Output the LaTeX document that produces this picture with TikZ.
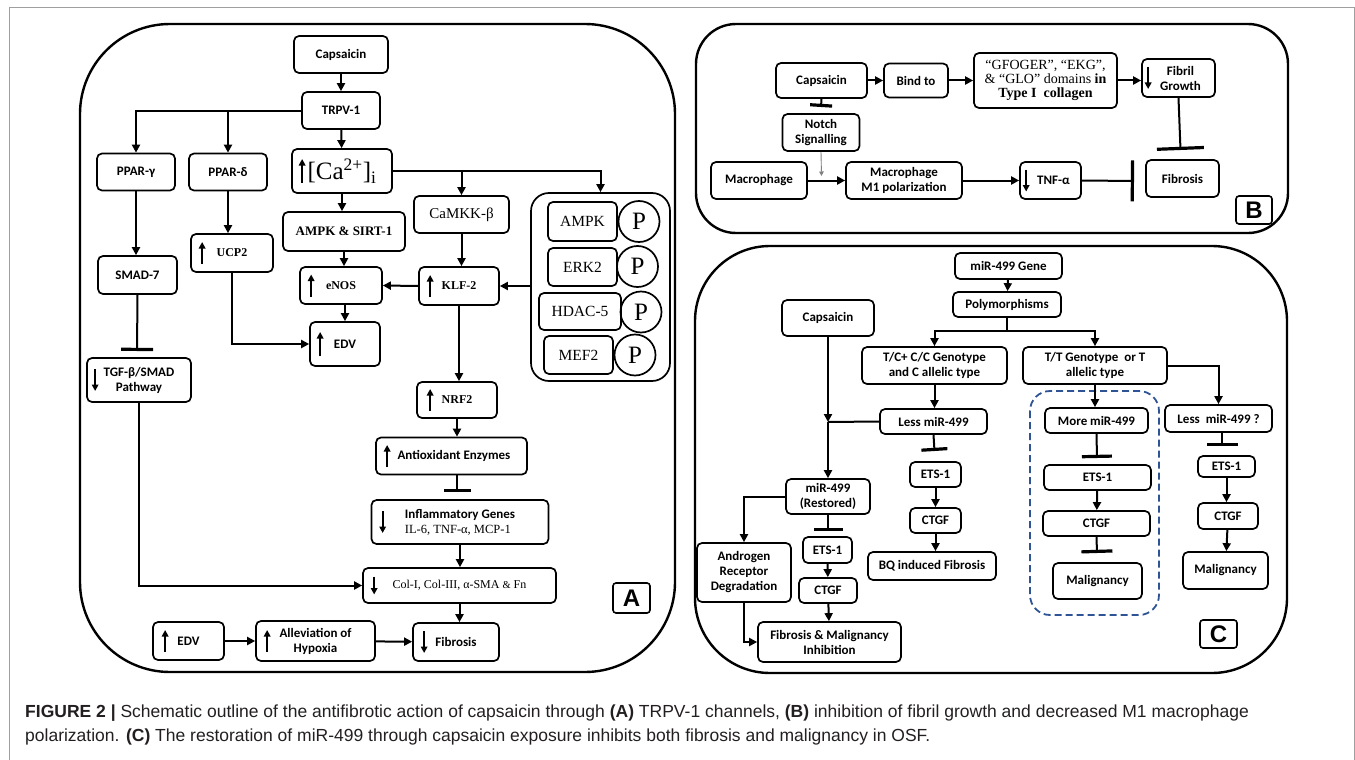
\documentclass[tikz,border=0pt]{standalone}
\usepackage{fontspec}
\setmainfont{Liberation Serif}
\newfontfamily\calfont{Carlito}
\newfontfamily\tmsfont{Liberation Serif}
\newfontfamily\arfont{Liberation Sans}
\usetikzlibrary{arrows.meta,calc}
\definecolor{dblue}{RGB}{46,84,150}
\definecolor{capgray}{RGB}{35,31,32}
\newcommand\UpA[3]{\draw[updn] ([xshift=#2,yshift=-#3]#1.west) -- ([xshift=#2,yshift=#3]#1.west);}
\newcommand\DnA[3]{\draw[updn] ([xshift=#2,yshift=#3]#1.west) -- ([xshift=#2,yshift=-#3]#1.west);}
\tikzset{
  box/.style={draw, line width=1.7pt, rounded corners=5pt, inner sep=0pt, align=center,
     font=\calfont\bfseries\fontsize{13}{15}\selectfont},
  wh/.style 2 args={minimum width=#1pt, minimum height=#2pt},
  tb/.style={box, font=\tmsfont\bfseries\fontsize{12}{14}\selectfont},
  tr/.style={box, font=\tmsfont\fontsize{15.5}{17}\selectfont},
  pc/.style={circle, draw, line width=1.7pt, minimum size=41pt, inner sep=0pt, font=\tmsfont\fontsize{25}{25}\selectfont},
  arr/.style={line width=2pt, -{Triangle[length=8pt,width=8pt]}},
  ln/.style={line width=2pt},
  inh/.style={line width=2pt, -{Bar[width=#1,line width=3.2pt]}},
  updn/.style={line width=2pt, -{Triangle[length=6.5pt,width=6.5pt]}},
  panel/.style={draw, line width=2.4pt},
  lab/.style={draw, line width=1.6pt, rounded corners=3pt, inner sep=0pt, font=\arfont\bfseries\fontsize{24}{24}\selectfont},
}
\begin{document}
\begin{tikzpicture}[x=1pt,y=-1pt]
\useasboundingbox (0,0) rectangle (1355,760);
\draw[gray!75, line width=1pt] (9,760) -- (9,8) -- (1354,8) -- (1354,760);

% ---------------- panels
\draw[panel, rounded corners=90pt] (80,24) rectangle (675,672);
\draw[panel, rounded corners=40pt] (696,24) rectangle (1288,233);
\draw[panel, rounded corners=75pt] (695,246) rectangle (1287,673);

% ---------------- panel A
\node[box,wh={94}{37}] (capA) at (341,54.5) {Capsaicin};
\node[box,wh={78}{37}] (trpv) at (341,110.5) {TRPV-1};
\node[box,wh={78}{37}] (ppg) at (136,172) {PPAR-γ};
\node[box,wh={78}{37}] (ppd) at (228,172) {PPAR-δ};
\node[box,wh={100}{44}, font=\tmsfont\fontsize{25}{27}\selectfont] (ca) at (342,171) {[Ca\textsuperscript{2+}]\textsubscript{i}};
\node[tr,wh={95}{37}, font=\tmsfont\fontsize{15}{17}\selectfont] (camkk) at (461.5,214.5) {CaMKK-β};
\node[box,wh={122}{39}, font=\tmsfont\bfseries\fontsize{13}{15}\selectfont] (ampks) at (344,231.5) {AMPK \& SIRT-1};
\node[tb,wh={82}{38}] (ucp) at (232,253) {UCP2};
\node[box,wh={79}{38}] (smad) at (137.5,275) {SMAD-7};
\node[tb,wh={82}{37}] (enos) at (341,285.5) {eNOS};
\node[tb,wh={80}{38}] (klf) at (459,286) {KLF-2};
\node[draw, line width=1.7pt, rounded corners=18pt, wh={139}{188}] (bigbox) at (600.5,287) {};
\node[tr,wh={69}{39}] (ampk) at (582.5,221.5) {AMPK};
\node[pc] (p1) at (639,221.5) {P};
\node[tr,wh={69}{38}] (erk) at (582.5,267) {ERK2};
\node[pc] (p2) at (637.5,266.5) {P};
\node[tr,wh={82}{37}] (hdac) at (580,311.5) {HDAC-5};
\node[pc] (p3) at (641,312) {P};
\node[tr,wh={69}{38}] (mef) at (578.5,355) {MEF2};
\node[pc] (p4) at (635,355) {P};
\node[box,wh={70}{44}] (edv1) at (345,344) {EDV};
\node[box,wh={104}{44}] (tgf) at (139,380) {TGF-β/SMAD\\Pathway};
\node[tb,wh={80}{36}] (nrf) at (457,400) {NRF2};
\node[box,wh={151}{37}] (anti) at (451.5,456) {\hspace*{5pt}Antioxidant Enzymes};
\node[box,wh={177}{44}, align=left] (infl) at (460,522) {Inflammatory Genes\\{\tmsfont\mdseries\fontsize{12.5}{15}\selectfont IL-6, TNF-α, MCP-1}};
\node[box,wh={193}{35}, font=\tmsfont\fontsize{12}{14}\selectfont] (col) at (459.5,585.5) {Col-I, Col-III, α-SMA {\fontsize{10.5}{12}\selectfont\&} Fn};
\node[box,wh={86}{38}] (fibA) at (456,642) {Fibrosis};
\node[box,wh={119}{40}] (allev) at (315.5,641) {Alleviation of\\Hypoxia};
\node[box,wh={71}{38}] (edv2) at (188.5,641) {EDV};
\node[lab,wh={37}{30}] (labA) at (631.5,598) {A};

% in-box arrows A
\UpA{ca}{11pt}{12pt}
\UpA{ucp}{12pt}{11pt}
\UpA{enos}{12pt}{11pt}
\UpA{klf}{12pt}{11pt}
\UpA{edv1}{11pt}{12pt}
\DnA{tgf}{9pt}{11pt}
\UpA{nrf}{14pt}{11pt}
\UpA{anti}{12pt}{11pt}
\DnA{infl}{12pt}{11pt}
\DnA{col}{12pt}{9pt}
\DnA{fibA}{12pt}{11pt}
\UpA{allev}{12pt}{11pt}
\UpA{edv2}{13pt}{11pt}

% connectors A
\draw[arr] (capA) -- (trpv);
\draw[arr] (trpv.west) -| (ppg.north);
\draw[arr] (ppd.north |- trpv.west) -- (ppd.north);
\draw[arr] (trpv) -- (ca);
\draw[arr] (ca.east) -| (bigbox.north);
\draw[arr] (camkk.north |- ca.east) -- (camkk.north);
\draw[arr] (ca.south) -- (ca.south |- ampks.north);
\draw[arr] (ampks.south) -- (ampks.south |- enos.north);
\draw[arr] (camkk.south) -- (camkk.south |- klf.north);
\draw[arr] (klf.west) -- (enos.east);
\draw[arr] (bigbox.west |- klf.east) -- (klf.east);
\draw[arr] (ppg.south) -- (ppg.south |- smad.north);
\draw[arr] (ppd.south) -- (ppd.south |- ucp.north);
\coordinate (bA1) at (137,351);
\draw[inh=32pt] (smad.south) -- (bA1);
\draw[arr] (ucp.south) |- (edv1.west);
\draw[arr] (edv1.north |- enos.south) -- (edv1.north);
\draw[arr] (klf.south) -- (klf.south |- nrf.north);
\draw[arr] (nrf.south) -- (nrf.south |- anti.north);
\coordinate (bA2) at (457,492);
\draw[inh=27pt] (anti.south -| bA2) -- (bA2);
\draw[arr] (infl.south) -- (infl.south |- col.north);
\draw[arr] (tgf.south) |- (col.west);
\draw[arr] (col.south) -- (col.south |- fibA.north);
\draw[arr] (edv2) -- (allev);
\draw[arr] (allev) -- (fibA);

% ---------------- panel B
\node[box,wh={91}{35}] (capB) at (821.5,80.5) {Capsaicin};
\node[box,wh={64}{34}] (bind) at (916,80.5) {Bind to};
\node[box,wh={143}{55}, font=\tmsfont\fontsize{14}{14}\selectfont] (gfo) at (1045.5,80.5) {“GFOGER”, “EKG”,\\\& “GLO” domains \textbf{in}\\\textbf{Type I\ \ collagen}};
\node[box,wh={73}{38}] (fibril) at (1178.5,78) {\hspace*{4pt}Fibril\\\hspace*{4pt}Growth};
\node[box,wh={77}{37}] (notch) at (821,132.5) {Notch\\Signalling};
\node[box,wh={96}{37}] (mac) at (759,180.5) {Macrophage};
\node[box,wh={116}{37}] (m1) at (904,180.5) {Macrophage\\M1 polarization};
\node[box,wh={61}{37}] (tnf) at (1050.5,180.5) {\hspace*{6pt}TNF-α};
\node[box,wh={73}{37}] (fibB) at (1182.5,178.5) {Fibrosis};
\node[lab,wh={36}{28}] (labB) at (1254,210) {B};
\DnA{fibril}{7pt}{11pt}
\DnA{tnf}{7pt}{11pt}
\draw[arr] (capB) -- (bind);
\draw[arr] (bind) -- (gfo);
\draw[arr] (gfo.east |- bind.east) -- (fibril.west |- bind.east);
\coordinate (bB1) at (821,107);
\draw[inh=22pt] (capB.south) -- (bB1);
\coordinate (bB2) at (1180.5,150);
\draw[inh=47pt] (fibril.south) -- (bB2);
\draw[arr] (mac) -- (m1);
\draw[arr] (m1) -- (tnf);
\coordinate (bB3) at (1134,181);
\draw[inh=41pt] (tnf.east) -- (bB3);
\coordinate (nj) at (821.5,176);
\draw[gray, line width=0.9pt, -{Triangle[length=4.5pt,width=4.5pt]}] (notch.south) -- (nj);

% ---------------- panel C
\node[box,wh={107}{26}] (gene) at (1008.5,266) {miR-499 Gene};
\node[box,wh={108}{25}] (poly) at (1007,304.5) {Polymorphisms};
\node[box,wh={92}{36}] (capC) at (828,318) {Capsaicin};
\node[box,wh={145}{37}] (tc) at (934.5,365.5) {T/C+ C/C Genotype\\and C allelic type};
\node[box,wh={144}{37}] (tt) at (1095,365.5) {T/T Genotype\ \ or T\\allelic type};
\node[box,wh={107}{25}] (less1) at (933.5,421.5) {Less miR-499};
\node[box,wh={51}{25}] (ets1) at (935.5,474.5) {ETS-1};
\node[box,wh={51}{25}] (ctgf1) at (935.5,520.5) {CTGF};
\node[box,wh={128}{28}] (bq) at (932,566) {BQ induced Fibrosis};
\node[box,wh={84}{35}] (rest) at (828,496.5) {miR-499\\(Restored)};
\node[box,wh={94}{59}] (andr) at (744,572.5) {Androgen\\Receptor\\Degradation};
\node[box,wh={49}{26}] (ets2) at (827.5,550) {ETS-1};
\node[box,wh={58}{25}] (ctgf2) at (828,590.5) {CTGF};
\node[box,wh={143}{40}] (fmi) at (829.5,642) {Fibrosis \& Malignancy\\Inhibition};
\draw[line width=1.8pt, dash pattern=on 7pt off 4pt, dblue, rounded corners=20pt] (1030,391) rectangle (1159,615);
\node[box,wh={103}{25}] (more) at (1096.5,420.5) {More miR-499};
\node[box,wh={107}{25}] (ets3) at (1097.5,477.5) {ETS-1};
\node[box,wh={107}{25}] (ctgf3) at (1096.5,523.5) {CTGF};
\node[box,wh={89}{36}] (mal1) at (1097.5,581) {Malignancy};
\node[box,wh={107}{27}] (less2) at (1218.5,418.5) {Less\ \ miR-499 ?};
\node[box,wh={57}{21}] (ets4) at (1226.5,466.5) {ETS-1};
\node[box,wh={60}{26}] (ctgf4) at (1228,516) {CTGF};
\node[box,wh={85}{37}] (mal2) at (1225.5,570.5) {Malignancy};
\node[lab,wh={37}{28}] (labC) at (1218.5,634) {C};

\draw[arr] (gene) -- (poly);
\coordinate (pj) at (1007,331);
\draw[ln] (poly.south) -- (pj);
\draw[arr] (pj) -| (tc.north);
\draw[arr] (pj) -| (tt.north);
\draw[arr] (tc.south) -- (tc.south |- less1.north);
\coordinate (cj) at (828,422);
\draw[arr] (capC.south) -- (cj);
\draw[ln] (less1.west) -- (cj);
\draw[arr] (cj) -- (rest.north);
\draw[arr] (rest.west) -| (andr.north);
\coordinate (bC1) at (828,531);
\draw[inh=29pt] (rest.south) -- (bC1);
\draw[arr] (ets2) -- (ctgf2);
\draw[arr] (ctgf2) -- (fmi);
\draw[arr] (andr.south) |- (fmi.west);
\coordinate (bC2) at (934.5,451);
\draw[inh=26pt] (less1.south) -- (bC2);
\draw[arr] (ets1) -- (ctgf1);
\draw[arr] (ctgf1.south) -- (ctgf1.south |- bq.north);
\draw[arr] (tt.south) -- (tt.south |- more.north);
\coordinate (bC3) at (1097,458);
\draw[inh=30pt] (more.south) -- (bC3);
\draw[arr] (ets3) -- (ctgf3);
\coordinate (bC4) at (1097,553);
\draw[inh=31pt] (ctgf3.south) -- (bC4);
\draw[arr] (tt.east) -| (less2.north);
\coordinate (bC5) at (1222,446);
\draw[inh=31pt] (less2.south -| bC5) -- (bC5);
\draw[arr] (ets4.south) -- (ets4.south |- ctgf4.north);
\draw[arr] (ctgf4) -- (mal2);

% ---------------- caption
\node[anchor=north west, inner sep=0pt, align=left, text=capgray, font=\arfont\fontsize{17.5}{24}\selectfont] (cap) at (25,705) {\textbf{FIGURE 2 |} Schematic outline of the antifibrotic action of capsaicin through \textbf{(A)} TRPV-1 channels, \textbf{(B)} inhibition of fibril growth and decreased M1 macrophage\\polarization. \textbf{(C)} The restoration of miR-499 through capsaicin exposure inhibits both fibrosis and malignancy in OSF.};
\end{tikzpicture}
\end{document}
